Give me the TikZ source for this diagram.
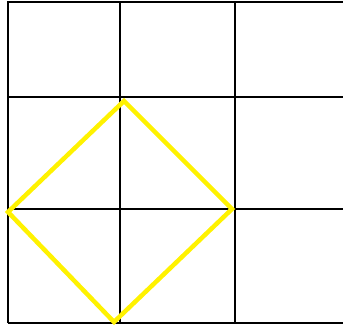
\documentclass[tikz,border=0pt]{standalone}
\begin{document}
\begin{tikzpicture}[x=1pt,y=-1pt,
  gridline/.style={black,line width=2pt},
  diamondline/.style={yellow,line width=4.5pt,line join=miter}]
\useasboundingbox (0,0) rectangle (343,326);
% grid
\draw[gridline] (8,323) -- (8,2) -- (343,2);
\draw[gridline] (120,2) -- (120,323);
\draw[gridline] (235,2) -- (235,323);
\draw[gridline] (8,97) -- (343,97);
\draw[gridline] (8,209) -- (343,209);
\draw[gridline] (8,323) -- (343,323);
% diamond
\coordinate (top) at (124,101);
\coordinate (right) at (232,209);
\coordinate (bottom) at (114,322);
\coordinate (left) at (8,212);
\draw[diamondline] (top) -- (right) -- (bottom) -- (left) -- cycle;
\end{tikzpicture}
\end{document}
